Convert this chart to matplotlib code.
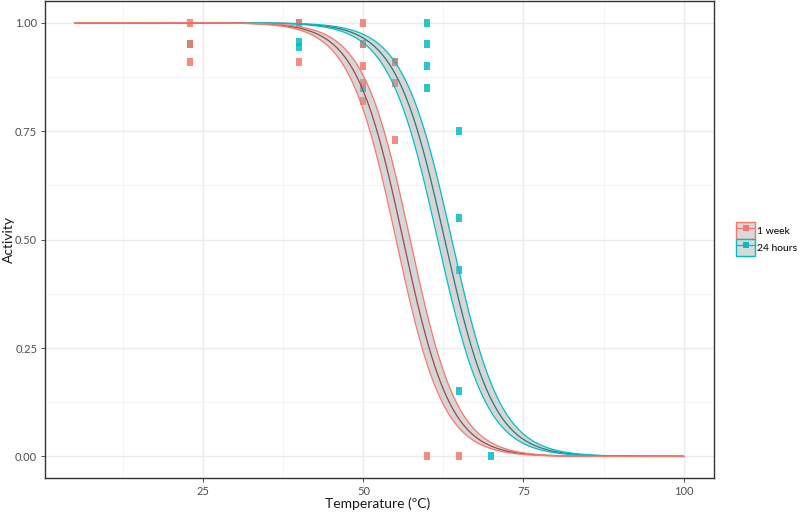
import numpy as np
import matplotlib
matplotlib.use("Agg")
import matplotlib.pyplot as plt
from matplotlib.patches import Patch
from matplotlib.lines import Line2D
from matplotlib.ticker import MultipleLocator

plt.rcParams['font.family'] = ['Lato', 'DejaVu Sans']

# ---- data ----
series = ["1 week", "24 hours"]
colors = {"1 week": "#F8766D", "24 hours": "#00BFC4"}
center_colors = {"1 week": "#9a4a47", "24 hours": "#2a7a7b"}

week_temp = [23, 23, 23, 40, 40, 50, 50, 50, 50, 50, 55, 55, 55, 60, 65]
week_act = [1.00, 0.95, 0.91, 1.00, 0.91, 1.00, 0.95, 0.90, 0.86, 0.82, 0.91, 0.86, 0.73, 0.00, 0.00]

day_temp = [23, 40, 40, 40, 50, 50, 55, 60, 60, 60, 60, 65, 65, 65, 65, 70]
day_act = [0.95, 1.00, 0.955, 0.945, 0.95, 0.85, 0.91, 1.00, 0.95, 0.90, 0.85, 0.75, 0.55, 0.43, 0.15, 0.00]

# fitted logistic parameters (midpoint, slope, half-width of band in degC)
fit_mid = {"1 week": 56.2, "24 hours": 62.7}
fit_slope = {"1 week": 0.27, "24 hours": 0.26}
band_shift = {"1 week": 1.1, "24 hours": 1.1}
curve_range = (5, 100)


def logistic(x, x0, k):
    return 1.0 / (1.0 + np.exp(k * (x - x0)))


fig = plt.figure(figsize=(8.0, 5.13), dpi=100)
ax = fig.add_axes([0.056, 0.068, 0.8365, 0.930])

rect = [(-0.4, -0.5), (0.4, -0.5), (0.4, 0.5), (-0.4, 0.5), (-0.4, -0.5)]

pts = {"1 week": (week_temp, week_act), "24 hours": (day_temp, day_act)}
for s in ["24 hours", "1 week"]:
    t, a = pts[s]
    ax.plot(t, a, linestyle='none', marker=rect, markersize=5.5,
            color=colors[s], markeredgewidth=0, alpha=0.85, zorder=3)

xs = np.linspace(curve_range[0], curve_range[1], 600)
z = 4
for s in ["24 hours", "1 week"]:
    x0, k, d = fit_mid[s], fit_slope[s], band_shift[s]
    lo = logistic(xs, x0 - d, k)
    hi = logistic(xs, x0 + d, k)
    mid = logistic(xs, x0, k)
    ax.fill_between(xs, lo, hi, color="#a6a6a6", alpha=0.45, linewidth=0, zorder=z)
    ax.plot(xs, mid, color=center_colors[s], lw=0.9, zorder=z + 0.1)
    ax.plot(xs, lo, color=colors[s], lw=0.9, zorder=z + 0.2)
    ax.plot(xs, hi, color=colors[s], lw=0.9, zorder=z + 0.2)
    z += 1

ax.set_xlim(0.25, 104.75)
ax.set_ylim(-0.05, 1.05)
ax.set_xticks([25, 50, 75, 100])
ax.set_yticks([0, 0.25, 0.5, 0.75, 1.0])
ax.set_yticklabels(["0.00", "0.25", "0.50", "0.75", "1.00"])
ax.xaxis.set_minor_locator(MultipleLocator(12.5))
ax.yaxis.set_minor_locator(MultipleLocator(0.125))
ax.grid(which='major', color='#ebebeb', lw=1.0, zorder=0)
ax.grid(which='minor', color='#f3f3f3', lw=0.6, zorder=0)
ax.set_axisbelow(True)
ax.tick_params(which='minor', length=0)
ax.tick_params(which='major', length=3, width=0.6, color='#333333',
               labelcolor='#4d4d4d', labelsize=8, pad=2.5)
for sp in ax.spines.values():
    sp.set_color('#333333')
    sp.set_linewidth(1.0)

fig.text(0.472, 0.019, "Temperature (ºC)", fontsize=10, color='#1a1a1a',
         ha='center', va='center')
fig.text(0.011, 0.534, "Activity", fontsize=10, color='#1a1a1a',
         ha='center', va='center', rotation=90)

handles = []
for s in series:
    handles.append((Patch(facecolor='#d9d9d9', edgecolor=colors[s], lw=1.0),
                    Line2D([], [], color=colors[s], lw=0.9, marker=rect,
                           markersize=5, markeredgewidth=0)))
leg = fig.legend(handles, series, loc='center left', bbox_to_anchor=(0.913, 0.534),
                 frameon=False, fontsize=7.5, handlelength=1.9, handleheight=2.1,
                 handletextpad=0.15, labelspacing=0.0, borderpad=0.0)

fig.savefig("out.png", dpi=100)
